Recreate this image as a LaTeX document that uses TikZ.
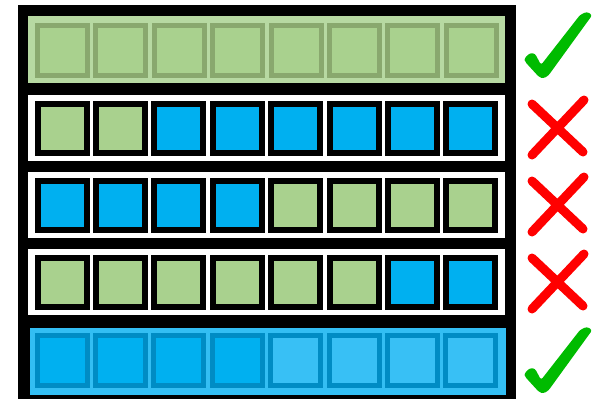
\documentclass[tikz,border=0pt]{standalone}
\usetikzlibrary{calc}
\definecolor{cellGreen}{RGB}{169,209,142}
\definecolor{cellGreenDark}{RGB}{137,168,110}
\definecolor{bandGreen}{RGB}{183,217,162}
\definecolor{cellBlue}{RGB}{0,176,240}
\definecolor{cellBlueLight}{RGB}{56,192,245}
\definecolor{cellBlueDark}{RGB}{0,140,196}
\definecolor{bandBlue}{RGB}{51,190,243}
\definecolor{markGreen}{RGB}{0,187,0}
\definecolor{markRed}{RGB}{255,0,0}

\begin{document}
\begin{tikzpicture}[x=1pt, y=-1pt,
  cell/.style={minimum size=49pt, inner sep=0pt, line width=6pt, draw=black},
  softcell/.style={minimum size=50pt, inner sep=0pt, line width=5pt},
  cross/.style={markRed, line width=9pt, line cap=round},
  tick/.style={fill=markGreen, rounded corners=2.5pt},
]
\useasboundingbox (0,0) rectangle (594,399);

%% ── layout: 1pt = 1 pixel, y grows downwards ─────────────
\def\cx{62}       % centre x of the first cell
\def\cw{58.4}     % cell pitch
\def\bxL{28}      % band left
\def\bxR{505}     % band right

%% ── helper: one row of eight framed cells ────────────────
%% args: centre y, row name, list of fill colours
\newcommand{\cellrow}[3]{
  \fill[white] (\bxL, {#1-33}) rectangle (\bxR, {#1+33});
  \foreach \col [count=\i from 0] in {#3}
    \node[cell, fill=\col] (#2c\i) at ({\cx+\i*\cw}, #1) {};
}

%% ── helper: check mark, shifted down by #1 ───────────────
\newcommand{\tickmark}[1]{
  \fill[tick, shift={(0,#1)}]
    (524.3,58.3) -- (530,53) -- (535,53.5) -- (541,65) -- (580,15)
    -- (586.7,11.7) -- (592.3,15) -- (548.3,75.7) -- (543.3,78.5)
    -- (539,77) -- (525,61.7) -- cycle;
}

%% ── helper: red cross, shifted down by #1 ────────────────
\newcommand{\crossmark}[1]{
  \draw[cross, shift={(0,#1)}] (532,104) -- (583,152) (584,100) -- (532,155);
}

%% ── black frame ──────────────────────────────────────────
\fill[black] (17.5,5) rectangle (516,399);

%% ── row 1: all green ─────────────────────────────────────
\fill[bandGreen] (\bxL,16) rectangle (\bxR,83);
\foreach \i in {0,...,7}
  \node[softcell, fill=cellGreen, draw=cellGreenDark] (r1c\i) at ({\cx+0.5+\i*\cw}, 50.5) {};

%% ── rows 2–4: mixed ──────────────────────────────────────
\cellrow{128}{r2}{cellGreen,cellGreen,cellBlue,cellBlue,cellBlue,cellBlue,cellBlue,cellBlue}
\cellrow{205}{r3}{cellBlue,cellBlue,cellBlue,cellBlue,cellGreen,cellGreen,cellGreen,cellGreen}
\cellrow{282}{r4}{cellGreen,cellGreen,cellGreen,cellGreen,cellGreen,cellGreen,cellBlue,cellBlue}

%% ── row 5: all blue ──────────────────────────────────────
\fill[bandBlue] (30,328) rectangle (506,394.5);
\foreach \col [count=\i from 0] in {cellBlue,cellBlue,cellBlue,cellBlue,cellBlueLight,cellBlueLight,cellBlueLight,cellBlueLight}
  \node[softcell, fill=\col, draw=cellBlueDark] (r5c\i) at ({\cx+\i*\cw}, 360) {};

%% ── marks ────────────────────────────────────────────────
\tickmark{0}
\crossmark{0}
\crossmark{77}
\crossmark{154}
\tickmark{315}

\end{tikzpicture}
\end{document}
